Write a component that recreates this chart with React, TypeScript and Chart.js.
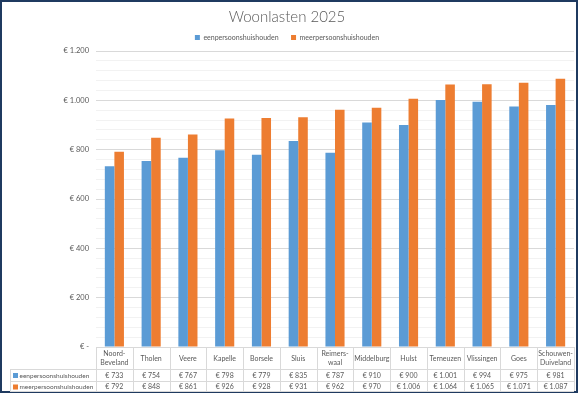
import React, { useEffect, useRef } from "react";
import { Chart, registerables } from "chart.js";

Chart.register(...registerables);

const titleText = "Woonlasten 2025";
const categories: (string | string[])[] = [
  ["Noord-", "Beveland"],
  "Tholen",
  "Veere",
  "Kapelle",
  "Borsele",
  "Sluis",
  ["Reimers-", "waal"],
  "Middelburg",
  "Hulst",
  "Terneuzen",
  "Vlissingen",
  "Goes",
  ["Schouwen-", "Duiveland"],
];
const seriesNames = ["eenpersoonshuishouden", "meerpersoonshuishouden"];
const eenpersoons = [733, 754, 767, 798, 779, 835, 787, 910, 900, 1001, 994, 975, 981];
const meerpersoons = [792, 848, 861, 926, 928, 931, 962, 970, 1006, 1064, 1065, 1071, 1087];
const seriesColors = ["#5B9BD5", "#ED7D31"];
const yMin = 0;
const yMax = 1200;
const majorStep = 200;
const minorStep = 40;

const FONT = "Lato, 'Open Sans', 'Liberation Sans', sans-serif";
const TEXT = "#595959";
const LINE = "#d9d9d9";

function euro(v: number): string {
  if (v === 0) return "€ -";
  const s = Math.round(v).toString().replace(/\B(?=(\d{3})+(?!\d))/g, ".");
  return "€ " + s;
}

const framePlugin = {
  id: "frame",
  beforeDraw(chart: any) {
    const { ctx, width, height } = chart;
    ctx.save();
    ctx.fillStyle = "#ffffff";
    ctx.fillRect(0, 0, width, height);
    ctx.restore();
  },
  afterDraw(chart: any) {
    const { ctx, width, height } = chart;
    ctx.save();
    ctx.strokeStyle = "#1F3A60";
    ctx.lineWidth = 2;
    ctx.strokeRect(1, 1, width - 2, height - 2);
    ctx.restore();
  },
};

const tablePlugin = {
  id: "dataTable",
  afterDraw(chart: any) {
    const { ctx, chartArea } = chart;
    const xScale = chart.scales.x;
    const n = categories.length;
    const left = chartArea.left;
    const right = chartArea.right;
    const colW = (right - left) / n;
    const top = chartArea.bottom;
    const hdrBottom = top + 22;
    const row1Bottom = hdrBottom + 12;
    const row2Bottom = row1Bottom + 10;
    const labelLeft = 10;

    ctx.save();
    ctx.strokeStyle = LINE;
    ctx.lineWidth = 1;
    const hline = (x1: number, x2: number, y: number) => {
      ctx.beginPath();
      ctx.moveTo(x1, Math.round(y) + 0.5);
      ctx.lineTo(x2, Math.round(y) + 0.5);
      ctx.stroke();
    };
    const vline = (x: number, y1: number, y2: number) => {
      ctx.beginPath();
      ctx.moveTo(Math.round(x) + 0.5, y1);
      ctx.lineTo(Math.round(x) + 0.5, y2);
      ctx.stroke();
    };
    hline(left, right, top);
    hline(labelLeft, right, hdrBottom);
    hline(labelLeft, right, row1Bottom);
    hline(labelLeft, right, row2Bottom);
    for (let i = 0; i <= n; i++) {
      vline(left + i * colW, top, row2Bottom);
    }
    vline(labelLeft, hdrBottom, row2Bottom);

    ctx.fillStyle = TEXT;
    ctx.textAlign = "center";
    ctx.textBaseline = "middle";
    ctx.font = `7px ${FONT}`;
    const hdrMid = (top + hdrBottom) / 2 + 0.5;
    categories.forEach((c, i) => {
      const cx = xScale.getPixelForValue(i);
      const lines = Array.isArray(c) ? c : [c];
      const lh = 9;
      lines.forEach((t, j) => {
        const y = hdrMid + (j - (lines.length - 1) / 2) * lh;
        ctx.fillText(t, cx, y);
      });
    });

    const rows = [eenpersoons, meerpersoons];
    const rowMids = [(hdrBottom + row1Bottom) / 2 + 0.5, (row1Bottom + row2Bottom) / 2 + 1];
    rows.forEach((vals, r) => {
      const y = rowMids[r];
      ctx.font = `7px ${FONT}`;
      vals.forEach((v, i) => {
        ctx.fillText(euro(v), xScale.getPixelForValue(i), y);
      });
      ctx.fillStyle = seriesColors[r];
      ctx.fillRect(labelLeft + 3, y - 2.5, 5, 5);
      ctx.fillStyle = TEXT;
      ctx.textAlign = "left";
      ctx.font = `6.5px ${FONT}`;
      ctx.fillText(seriesNames[r], labelLeft + 9.5, y);
      ctx.textAlign = "center";
    });
    ctx.restore();
  },
};

export default function App() {
  const ref = useRef<HTMLCanvasElement>(null);
  useEffect(() => {
    document.body.style.margin = "0";
    const canvas = ref.current!;
    const chart = new Chart(canvas, {
      type: "bar",
      data: {
        labels: categories as any,
        datasets: [
          { label: seriesNames[0], data: eenpersoons, backgroundColor: seriesColors[0], borderWidth: 0 },
          { label: seriesNames[1], data: meerpersoons, backgroundColor: seriesColors[1], borderWidth: 0 },
        ],
      },
      options: {
        animation: false,
        responsive: false,
        devicePixelRatio: 1,
        datasets: { bar: { categoryPercentage: 0.52, barPercentage: 1 } },
        layout: { padding: { left: 0, right: 4, top: 0, bottom: 46 } },
        plugins: {
          title: {
            display: true,
            text: titleText,
            color: TEXT,
            font: { family: FONT, size: 15, weight: "300" as any, lineHeight: 0.6 },
            padding: { top: 12.5, bottom: 0 },
          },
          legend: {
            display: true,
            position: "top",
            labels: {
              color: TEXT,
              font: { family: FONT, size: 7 },
              boxWidth: 5,
              boxHeight: 5,
              padding: 12.5,
            },
          },
          tooltip: { enabled: false },
        },
        scales: {
          x: { display: false },
          y: {
            min: yMin,
            max: yMax,
            afterFit: (scale: any) => {
              scale.width = 96;
            },
            border: { display: false },
            grid: {
              drawTicks: false,
              color: (c: any) => (c.tick && c.tick.value % majorStep === 0 ? LINE : "#f2f2f2"),
            },
            ticks: {
              stepSize: minorStep,
              autoSkip: false,
              padding: 7,
              color: TEXT,
              font: { family: FONT, size: 7.5 },
              callback: (v: any) => (Number(v) % majorStep === 0 ? euro(Number(v)) : ""),
            },
          },
        },
      },
      plugins: [framePlugin, tablePlugin],
    });
    return () => chart.destroy();
  }, []);
  return (
    <div style={{ width: 578, height: 393 }}>
      <canvas ref={ref} width={578} height={393} />
    </div>
  );
}
